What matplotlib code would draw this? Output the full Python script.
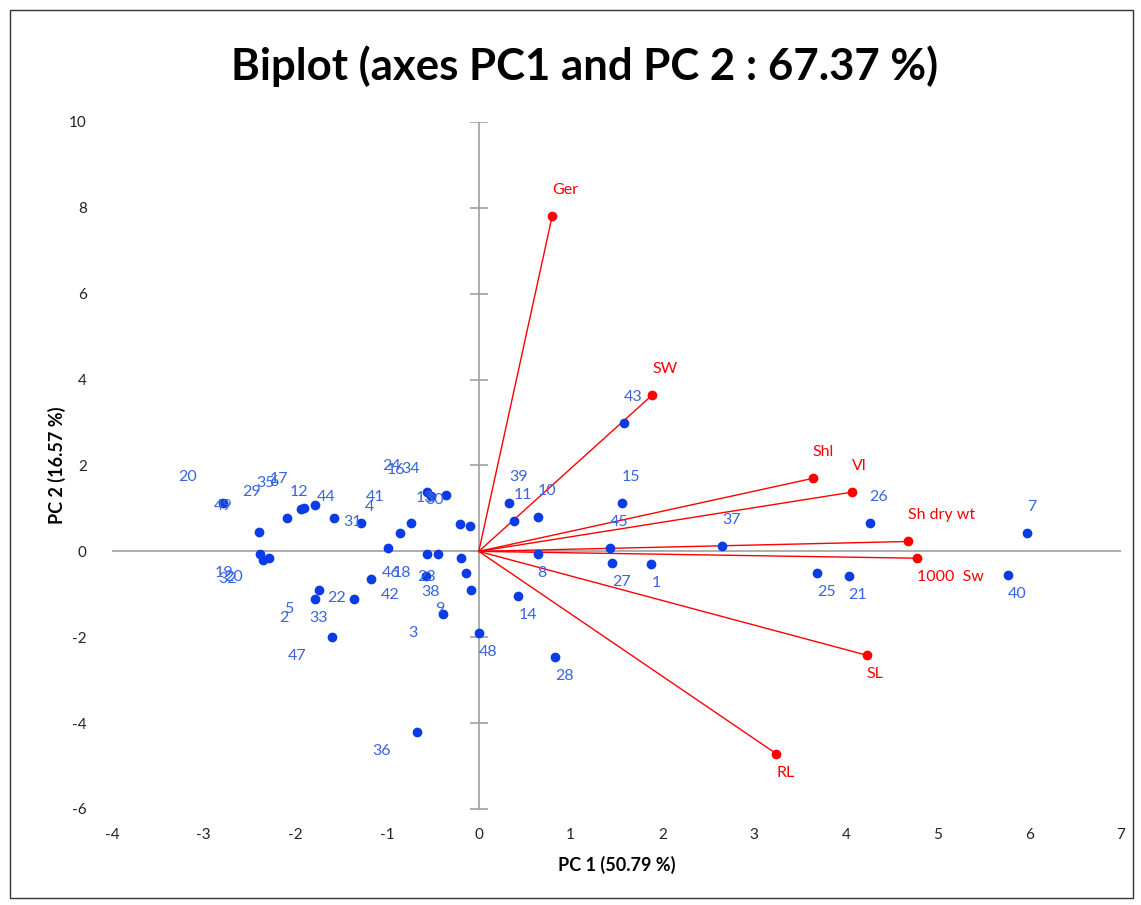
import matplotlib
matplotlib.use("Agg")
import matplotlib.pyplot as plt
from matplotlib.patches import Rectangle
import numpy as np

plt.rcParams['font.family'] = ['Lato', 'DejaVu Sans']
plt.rcParams['axes.unicode_minus'] = False

# observations (PC1, PC2) and their labels
obs_labels = ["20", "49", "19", "32", "20", "29", "35", "6", "17", "12",
              "44", "31", "4", "41", "24", "16", "34", "13", "30", "46",
              "18", "23", "38", "9", "3", "48", "42", "22", "5", "2",
              "33", "47", "36", "39", "11", "10", "8", "14", "28", "43",
              "15", "45", "27", "1", "37", "25", "21", "26", "40", "7"]
obs_pc1 = [-2.79, -2.40, -2.39, -2.35, -2.29, -2.09, -1.94, -1.90, -1.79, -1.58,
           -1.28, -0.99, -0.86, -0.74, -0.57, -0.52, -0.36, -0.20, -0.10, -0.57,
           -0.45, -0.19, -0.14, -0.09, -0.39, 0.005, -0.58, -1.17, -1.74, -1.79,
           -1.36, -1.60, -0.67, 0.33, 0.38, 0.64, 0.64, 0.43, 0.83, 1.58,
           1.56, 1.43, 1.45, 1.88, 2.65, 3.69, 4.03, 4.26, 5.77, 5.98]
obs_pc2 = [1.12, 0.44, -0.05, -0.19, -0.15, 0.77, 0.98, 1.00, 1.07, 0.77,
           0.65, 0.07, 0.42, 0.65, 1.38, 1.28, 1.31, 0.63, 0.58, -0.05,
           -0.07, -0.16, -0.51, -0.89, -1.45, -1.89, -0.58, -0.65, -0.91, -1.12,
           -1.12, -2.00, -4.20, 1.12, 0.70, 0.79, -0.07, -1.03, -2.47, 2.98,
           1.12, 0.07, -0.28, -0.30, 0.12, -0.51, -0.58, 0.65, -0.54, 0.42]

# variable loadings (arrow tips)
var_labels = ["Ger", "SW", "Shl", "Vl", "Sh dry wt", "1000  Sw", "SL", "RL"]
var_pc1 = [0.80, 1.89, 3.64, 4.07, 4.68, 4.78, 4.23, 3.24]
var_pc2 = [7.81, 3.64, 1.70, 1.38, 0.23, -0.16, -2.42, -4.71]

xticks = np.arange(-4, 8, 1)
yticks = np.arange(-6, 11, 2)

blue = "#0A3CE6"
blue_txt = "#3A64E0"
red = "#FF0000"
grey = "#A0A0A0"

fig = plt.figure(figsize=(11.41, 9.05), dpi=100)
ax = fig.add_axes([0.098, 0.1061, 0.8845, 0.7591])

ax.set_xlim(-4, 7)
ax.set_ylim(-6, 10)
for s in ax.spines.values():
    s.set_visible(False)
ax.axhline(0, color=grey, lw=1.2, zorder=1)
ax.axvline(0, color=grey, lw=1.2, zorder=1)
# little cross ticks on the vertical axis
ax.plot(np.zeros(len(yticks)), yticks, ls='none', marker='_', ms=13,
        mew=1.2, color=grey, zorder=1)

ax.set_xticks(xticks)
ax.set_yticks(yticks)
ax.tick_params(axis='y', length=0, labelsize=11, pad=18, colors="#222222")
ax.tick_params(axis='x', length=0, labelsize=11, pad=14, colors="#222222")


def place(x, y):
    # labels go right/left and above/below depending on the quadrant
    dx = 0 if x >= 0 else -26
    ha = 'left' if x >= 0 else 'right'
    dy = 26 if y > 0 else -19
    return dx, dy, ha


# arrows for the variables
for lab, x, y in zip(var_labels, var_pc1, var_pc2):
    ax.plot([0, x], [0, y], color=red, lw=1, zorder=2)
    dx, dy, ha = place(x, y)
    ax.annotate(lab, (x, y), xytext=(dx, dy), textcoords='offset pixels',
                ha=ha, va='center', color=red, fontsize=11.5)
ax.plot(var_pc1, var_pc2, ls='none', marker='o', ms=6, color=red, zorder=3)

# observations
ax.plot(obs_pc1, obs_pc2, ls='none', marker='o', ms=6, color=blue, zorder=3)
for lab, x, y in zip(obs_labels, obs_pc1, obs_pc2):
    dx, dy, ha = place(x, y)
    ax.annotate(lab, (x, y), xytext=(dx, dy), textcoords='offset pixels',
                ha=ha, va='center', color=blue_txt, fontsize=11.5)

ax.set_xlabel("PC 1 (50.79 %)", fontsize=13, fontweight='bold', labelpad=10)
ax.set_ylabel("PC 2 (16.57 %)", fontsize=13, fontweight='bold', labelpad=2)
fig.text(0.512, 0.927, "Biplot (axes PC1 and PC 2 : 67.37 %)", ha='center',
         va='center', fontsize=31.5, fontweight='bold')

# outer chart border
fig.patches.append(Rectangle((10 / 1141, 1 - 898 / 905), 1123 / 1141, 888 / 905,
                             transform=fig.transFigure, fill=False,
                             edgecolor="#333333", lw=1))

fig.savefig("out.png", dpi=100)
